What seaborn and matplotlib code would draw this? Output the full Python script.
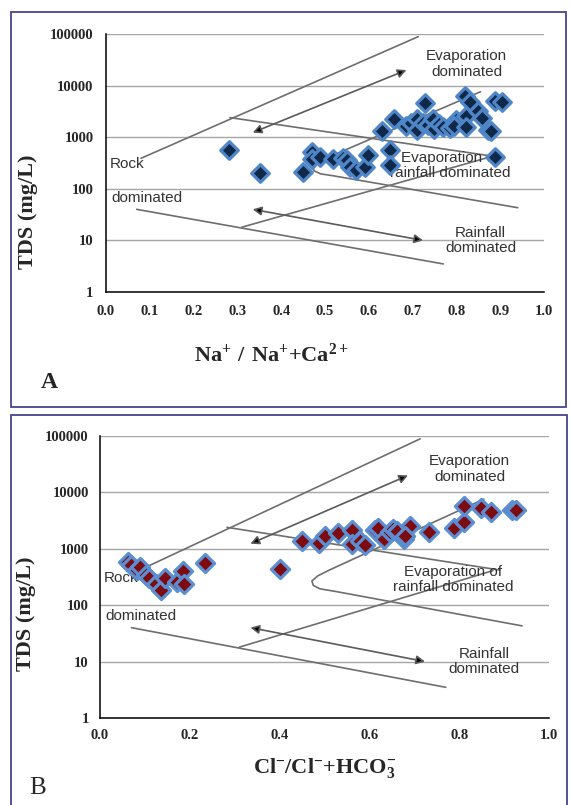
import numpy as np
import matplotlib
matplotlib.use("Agg")
import matplotlib.pyplot as plt
from matplotlib.patches import Rectangle
import seaborn as sns

# ---- sample data ----
na_ratio = [0.28, 0.352, 0.449, 0.47, 0.47, 0.489, 0.518, 0.541, 0.551, 0.557,
            0.571, 0.591, 0.599, 0.648, 0.648, 0.629, 0.658, 0.686, 0.697, 0.709,
            0.709, 0.728, 0.724, 0.735, 0.746, 0.749, 0.76, 0.770, 0.785, 0.799,
            0.795, 0.82, 0.83, 0.821, 0.821, 0.849, 0.859, 0.873, 0.88, 0.888,
            0.903, 0.888]
na_tds = [577, 199, 214, 525, 372, 418, 378, 400, 362, 268,
          230, 268, 450, 565, 290, 1340, 2250, 1650, 1900, 2230,
          1380, 4570, 1910, 1700, 2230, 1420, 1800, 1590, 1480, 2150,
          1650, 6150, 4900, 2570, 1590, 3150, 2330, 1380, 1290, 5020,
          4900, 407]

cl_ratio = [0.062, 0.07, 0.083, 0.09, 0.103, 0.11, 0.124, 0.136, 0.144, 0.172,
            0.184, 0.187, 0.234, 0.402, 0.451, 0.487, 0.502, 0.53, 0.562, 0.562,
            0.578, 0.59, 0.612, 0.62, 0.632, 0.645, 0.653, 0.661, 0.677, 0.69,
            0.68, 0.732, 0.788, 0.81, 0.81, 0.848, 0.871, 0.918, 0.927]
cl_tds = [590, 520, 415, 470, 350, 300, 240, 185, 300, 255,
          400, 235, 555, 440, 1400, 1290, 1710, 1880, 2150, 1230,
          1380, 1150, 2170, 2300, 1500, 1960, 2220, 2080, 1520, 2540,
          1700, 2020, 2380, 3000, 5700, 5200, 4550, 4850, 4850]

# ---- Gibbs envelope (same sketch on both panels) ----
outer_upper_x = [0.08, 0.713]
outer_upper_y = [390, 89000]
upper_inner_x = [0.283, 0.89]
upper_inner_y = [2400, 420]
bend_x = [0.855, 0.51, 0.485, 0.472, 0.475, 0.49, 0.52, 0.94]
bend_y = [7600, 417, 331, 269, 224, 195, 178, 43]
lower_inner_x = [0.31, 0.875]
lower_inner_y = [18, 410]
outer_lower_x = [0.07, 0.77]
outer_lower_y = [40, 3.5]
evap_arrow = [(0.335, 1230), (0.686, 20000)]
rain_arrow = [(0.335, 40), (0.724, 10)]

zone_labels = ["Evaporation\ndominated", "Evaporation of\nrainfall dominated",
               "Rainfall\ndominated", "Rock", "dominated"]
zone_x = [0.823, 0.786, 0.855, 0.009, 0.013]
zone_y = [26000, 285, 10, 300, 65]
zone_ha = ["center", "center", "center", "left", "left"]

tds_ticks = [1, 10, 100, 1000, 10000, 100000]
tds_labels = ["1", "10", "100", "1000", "10000", "100000"]

sns.set_style("white")
plt.rcParams["font.family"] = ["Liberation Serif", "DejaVu Serif"]
plt.rcParams["mathtext.fontset"] = "custom"
plt.rcParams["mathtext.rm"] = "Liberation Serif"
plt.rcParams["mathtext.bf"] = "Liberation Serif:bold"

W, H = 570, 805
fig = plt.figure(figsize=(W / 100, H / 100), dpi=100)

# panel frames
frame_col = "#47448f"
fig.patches.append(Rectangle((11 / W, 1 - 407 / H), 555 / W, 395 / H, transform=fig.transFigure,
                             fill=False, ec=frame_col, lw=1.3))
fig.patches.append(Rectangle((11 / W, 1 - 812 / H), 556 / W, 397 / H, transform=fig.transFigure,
                             fill=False, ec=frame_col, lw=1.3))

axA = fig.add_axes([106 / W, 1 - 292 / H, 438 / W, 258 / H])
axB = fig.add_axes([100 / W, 1 - 718 / H, 449 / W, 282 / H])


def gibbs_frame(ax):
    line_kw = dict(color="#6e6e6e", lw=1.2, zorder=2)
    ax.plot(outer_upper_x, outer_upper_y, **line_kw)
    ax.plot(upper_inner_x, upper_inner_y, **line_kw)
    ax.plot(bend_x, bend_y, **line_kw)
    ax.plot(lower_inner_x, lower_inner_y, **line_kw)
    ax.plot(outer_lower_x, outer_lower_y, **line_kw)
    for a, b in (evap_arrow, rain_arrow):
        ax.annotate("", xy=b, xytext=a,
                    arrowprops=dict(arrowstyle="<|-|>", lw=1.2, ec="#5a5a5a", fc="black",
                                    mutation_scale=13, shrinkA=0, shrinkB=0), zorder=2)
    for lab, x, y, ha in zip(zone_labels, zone_x, zone_y, zone_ha):
        ax.text(x, y, lab, ha=ha, va="center", fontsize=11, color="#333333",
                family=["Liberation Sans", "DejaVu Sans"], linespacing=1.15, zorder=2)

    ax.set_yscale("log")
    ax.set_xlim(0, 1)
    ax.set_ylim(1, 100000)
    ax.set_yticks(tds_ticks)
    ax.set_yticklabels(tds_labels)
    ax.minorticks_off()
    ax.yaxis.grid(True, color="#a6a6a6", lw=1)
    ax.xaxis.grid(False)
    ax.set_axisbelow(True)
    for s in ("top", "right"):
        ax.spines[s].set_visible(False)
    for s in ("left", "bottom"):
        ax.spines[s].set_color("black")
        ax.spines[s].set_linewidth(1.1)
    for t in ax.get_yticklabels():
        t.set_fontweight("bold")
        t.set_fontsize(10.5)


# ---- panel A ----
gibbs_frame(axA)
sns.scatterplot(x=na_ratio, y=na_tds, marker="D", s=80, color="#10294a",
                edgecolor="#4f86c8", linewidth=2.3, ax=axA, zorder=3)
xa = np.round(np.arange(0, 1.01, 0.1), 1)
axA.set_xticks(xa)
axA.set_xticklabels([f"{v:.1f}" for v in xa], fontweight="bold", fontsize=10.5)
axA.tick_params(axis="both", length=0, pad=9)
axA.set_ylabel("TDS (mg/L)", fontsize=16, fontweight="bold")
axA.yaxis.set_label_coords(-0.155, 0.31)
fig.text(272 / W, 1 - 355 / H, r"$\mathbf{Na^{+}\ /\ Na^{+}{+}Ca^{2+}}$", fontsize=16,
         ha="center", va="center")
fig.text(49 / W, 1 - 382 / H, "A", fontsize=17, fontweight="bold", ha="center", va="center")

# ---- panel B ----
gibbs_frame(axB)
sns.scatterplot(x=cl_ratio, y=cl_tds, marker="D", s=85, color="#7c0b12",
                edgecolor="#5b8fd2", linewidth=2.3, ax=axB, zorder=3)
xb = np.round(np.arange(0, 1.01, 0.2), 1)
axB.set_xticks(xb)
axB.set_xticklabels([f"{v:.1f}" for v in xb], fontweight="bold", fontsize=10.5)
axB.tick_params(axis="both", direction="inout", length=6, width=1, pad=5)
axB.set_ylabel("TDS (mg/L)", fontsize=16, fontweight="bold")
axB.yaxis.set_label_coords(-0.143, 0.37)
fig.text(325 / W, 1 - 768 / H, r"$\mathbf{Cl^{-}/Cl^{-}{+}HCO_{3}^{-}}$", fontsize=16,
         ha="center", va="center")
fig.text(38 / W, 1 - 788 / H, "B", fontsize=18, ha="center", va="center")

fig.savefig("out.png", dpi=100)
